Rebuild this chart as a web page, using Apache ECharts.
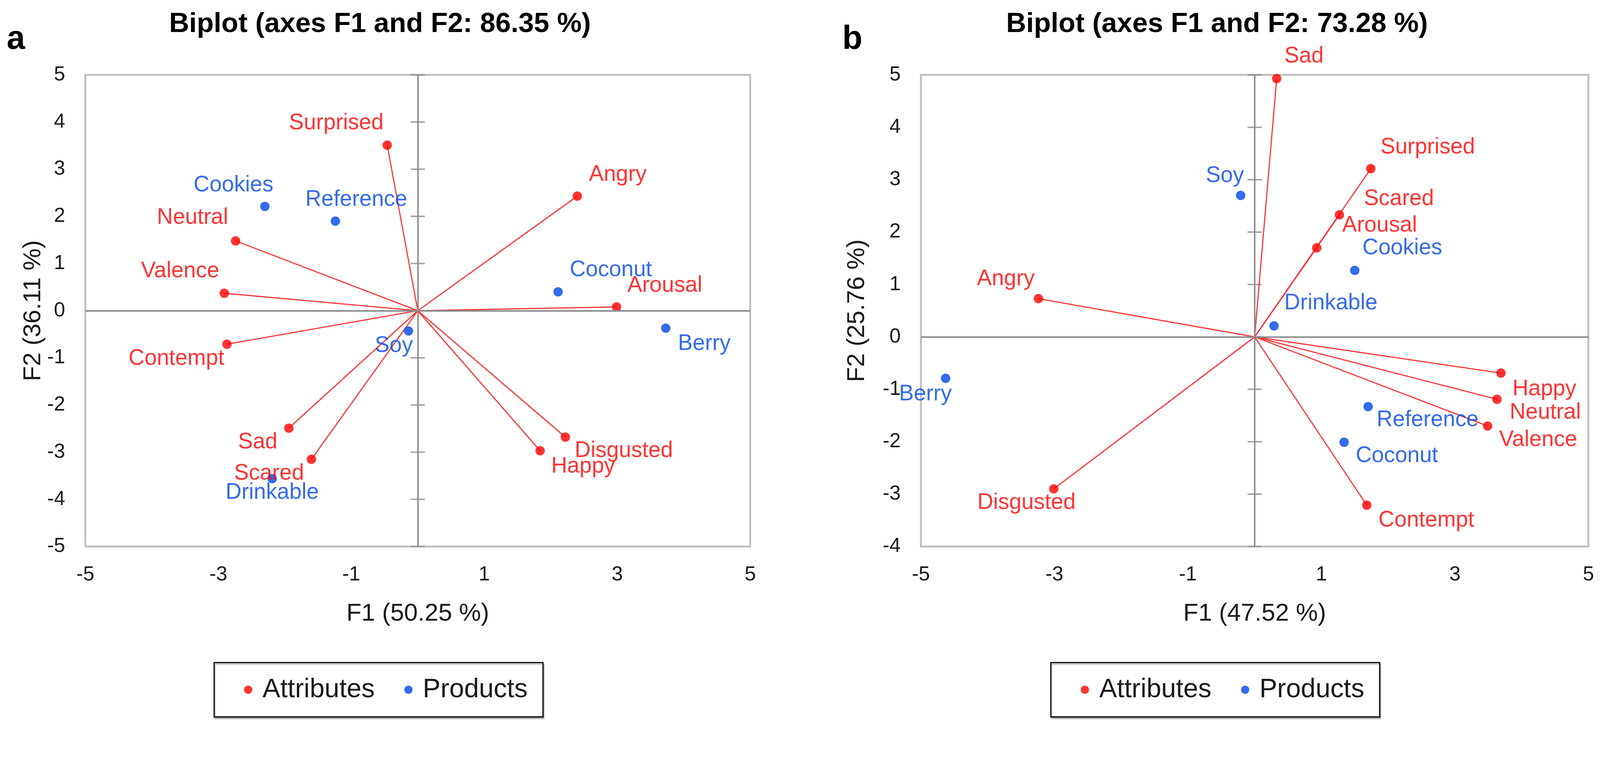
<!DOCTYPE html>
<html>
<head>
<meta charset="utf-8">
<script src="https://cdn.jsdelivr.net/npm/echarts@6/dist/echarts.min.js"></script>
<style>
html,body{margin:0;padding:0;background:#fff;overflow:hidden;}
#chart{width:100vw;height:100vh;}
</style>
</head>
<body>
<div id="chart"></div>
<script>
// ---------- DATA ----------
const titleA = 'Biplot (axes F1 and F2: 86.35 %)';
const titleB = 'Biplot (axes F1 and F2: 73.28 %)';
const xNameA = 'F1 (50.25 %)';
const yNameA = 'F2 (36.11 %)';
const xNameB = 'F1 (47.52 %)';
const yNameB = 'F2 (25.76 %)';
const legendNames = ['Attributes', 'Products'];

const attrNamesA = ['Surprised', 'Neutral', 'Valence', 'Angry', 'Arousal', 'Contempt', 'Sad', 'Scared', 'Disgusted', 'Happy'];
const attrF1A = [-0.46, -2.74, -2.91, 2.40, 2.99, -2.87, -1.94, -1.60, 2.22, 1.84];
const attrF2A = [3.51, 1.48, 0.37, 2.43, 0.08, -0.71, -2.49, -3.15, -2.68, -2.97];
const prodNamesA = ['Cookies', 'Reference', 'Coconut', 'Soy', 'Berry', 'Drinkable'];
const prodF1A = [-2.30, -1.24, 2.11, -0.14, 3.73, -2.19];
const prodF2A = [2.21, 1.90, 0.40, -0.43, -0.37, -3.56];

const attrNamesB = ['Sad', 'Surprised', 'Scared', 'Arousal', 'Angry', 'Happy', 'Neutral', 'Valence', 'Contempt', 'Disgusted'];
const attrF1B = [0.33, 1.74, 1.27, 0.93, -3.24, 3.69, 3.63, 3.49, 1.68, -3.01];
const attrF2B = [4.93, 3.21, 2.33, 1.70, 0.73, -0.69, -1.19, -1.70, -3.21, -2.90];
const prodNamesB = ['Soy', 'Cookies', 'Drinkable', 'Berry', 'Reference', 'Coconut'];
const prodF1B = [-0.21, 1.50, 0.29, -4.63, 1.70, 1.34];
const prodF2B = [2.70, 1.27, 0.21, -0.79, -1.33, -2.01];

const yTicksA = [-5, -4, -3, -2, -1, 0, 1, 2, 3, 4, 5];
const yTicksB = [-4, -3, -2, -1, 0, 1, 2, 3, 4, 5];

// ---------- STYLE (label placement: px offsets of label centre from point, at 4274px width) ----------
const labelOffA = {
  Surprised: [-136, -59], Neutral: [-115, -62], Valence: [-118, -59], Angry: [108, -57],
  Arousal: [129, -57], Contempt: [-135, 39], Sad: [-83, 38], Scared: [-113, 38],
  Disgusted: [156, 37], Happy: [115, 42],
  Cookies: [-84, -57], Reference: [56, -57], Coconut: [141, -58], Soy: [-39, 40],
  Berry: [103, 42], Drinkable: [0, 38]
};
const labelOffB = {
  Sad: [73, -59], Surprised: [152, -57], Scared: [159, -42], Arousal: [168, -60],
  Angry: [-87, -52], Happy: [116, 43], Neutral: [129, 36], Valence: [135, 37],
  Contempt: [159, 41], Disgusted: [-73, 37],
  Soy: [-42, -52], Cookies: [127, -59], Drinkable: [152, -60], Berry: [-54, 43],
  Reference: [159, 36], Coconut: [141, 37]
};

const FONT = "'Liberation Sans', Arial, sans-serif";
const RED = '#ff0000';
const BLUE = '#0046e6';
const AXISGRAY = '#8c8c8c';
const TXT = '#1a1a1a';

const el = document.getElementById('chart');
const s = Math.min(el.clientWidth / 4274, el.clientHeight / 1938);
const S = v => v * s;

function points(names, xs, ys, offs) {
  return names.map((n, i) => ({ name: n, value: [xs[i], ys[i]], label: { offset: offs[n].map(S) } }));
}
function vectors(xs, ys) {
  return xs.map((x, i) => ({ coords: [[0, 0], [x, ys[i]]] }));
}

const grids = [
  { left: S(228), top: S(200), width: S(1776), height: S(1260) },
  { left: S(2460), top: S(200), width: S(1783), height: S(1260) }
];

function xAxisFor(gi, name) {
  return {
    type: 'value', gridIndex: gi, min: -5, max: 5, interval: 2, position: 'bottom',
    axisLine: { show: false }, axisTick: { show: false }, splitLine: { show: false },
    axisLabel: { fontSize: S(54), fontFamily: FONT, color: TXT, margin: S(49) },
    name: name, nameLocation: 'middle', nameGap: S(147),
    nameTextStyle: { fontSize: S(66), fontFamily: FONT, color: TXT }
  };
}
function yAxisFor(gi, min, name, gap) {
  return {
    type: 'value', gridIndex: gi, min: min, max: 5, interval: 1, position: 'left',
    axisLine: { show: false }, axisTick: { show: false }, splitLine: { show: false },
    axisLabel: { fontSize: S(54), fontFamily: FONT, color: TXT, margin: S(54) },
    name: name, nameLocation: 'middle', nameGap: S(gap), nameRotate: 90,
    nameTextStyle: { fontSize: S(66), fontFamily: FONT, color: TXT }
  };
}

function seriesFor(gi, attrN, ax, ay, prodN, px, py, offs, ticks) {
  const lbl = (color) => ({
    show: true, position: 'inside', formatter: '{b}', fontSize: S(59), fontFamily: FONT,
    color: color, align: 'center', verticalAlign: 'middle'
  });
  return [
    {
      type: 'scatter', xAxisIndex: gi, yAxisIndex: gi, silent: true, z: 1,
      symbol: 'rect', symbolSize: [S(38), S(4)], itemStyle: { color: AXISGRAY },
      data: ticks.map(v => [0, v]),
      markLine: {
        silent: true, symbol: 'none', animation: false, label: { show: false },
        lineStyle: { color: AXISGRAY, width: S(4), type: 'solid' },
        data: [{ xAxis: 0 }, { yAxis: 0 }]
      }
    },
    {
      type: 'lines', coordinateSystem: 'cartesian2d', xAxisIndex: gi, yAxisIndex: gi,
      silent: true, z: 2, lineStyle: { color: '#ff3030', width: S(3), opacity: 1 },
      data: vectors(ax, ay)
    },
    {
      name: 'Attributes', type: 'scatter', xAxisIndex: gi, yAxisIndex: gi, z: 3,
      symbol: 'circle', symbolSize: S(25), itemStyle: { color: RED },
      label: lbl(RED), data: points(attrN, ax, ay, offs)
    },
    {
      name: 'Products', type: 'scatter', xAxisIndex: gi, yAxisIndex: gi, z: 3,
      symbol: 'circle', symbolSize: S(25), itemStyle: { color: BLUE },
      label: lbl(BLUE), data: points(prodN, px, py, offs)
    }
  ];
}

function legendFor(left) {
  return {
    data: legendNames, left: S(left), top: S(1770), orient: 'horizontal',
    icon: 'circle', itemWidth: S(22), itemHeight: S(22), itemGap: S(79),
    padding: [S(37), S(41), S(37), S(80)], borderColor: '#000', borderWidth: S(3),
    backgroundColor: '#fff', shadowColor: 'rgba(0,0,0,0.35)', shadowOffsetX: S(2), shadowOffsetY: S(4), shadowBlur: S(3),
    selectedMode: false,
    formatter: '{t|{name}}',
    textStyle: { fontSize: S(71), fontFamily: FONT, color: TXT, rich: { t: { fontSize: S(71), fontFamily: FONT, color: TXT, padding: [0, 0, 0, S(22)] } } }
  };
}

function txt(x, y, text, size, va) {
  return { type: 'text', x: S(x), y: S(y), style: { text: text, fontSize: S(size), fontWeight: 'bold', fontFamily: FONT, fill: '#000', align: x < 300 || (x > 2200 && x < 2400) ? 'left' : 'center', verticalAlign: va } };
}

const chart = echarts.init(el, null, { renderer: 'canvas' });
chart.setOption({
  backgroundColor: '#fff',
  animation: false,
  graphic: [
    txt(1015, 28, titleA, 74, 'top'),
    txt(3251, 28, titleB, 74, 'top'),
    txt(18, 106, 'a', 88, 'middle'),
    txt(2250, 106, 'b', 88, 'middle')
  ],
  grid: grids.map(g => Object.assign({ show: true, borderColor: '#bfbfbf', borderWidth: S(5), backgroundColor: '#fff', containLabel: false }, g)),
  xAxis: [xAxisFor(0, xNameA), xAxisFor(1, xNameB)],
  yAxis: [yAxisFor(0, -5, yNameA, 102), yAxisFor(1, -4, yNameB, 137)],
  legend: [legendFor(572), legendFor(2807)],
  series: [].concat(
    seriesFor(0, attrNamesA, attrF1A, attrF2A, prodNamesA, prodF1A, prodF2A, labelOffA, yTicksA),
    seriesFor(1, attrNamesB, attrF1B, attrF2B, prodNamesB, prodF1B, prodF2B, labelOffB, yTicksB)
  )
});
window.addEventListener('resize', () => chart.resize());
</script>
</body>
</html>
